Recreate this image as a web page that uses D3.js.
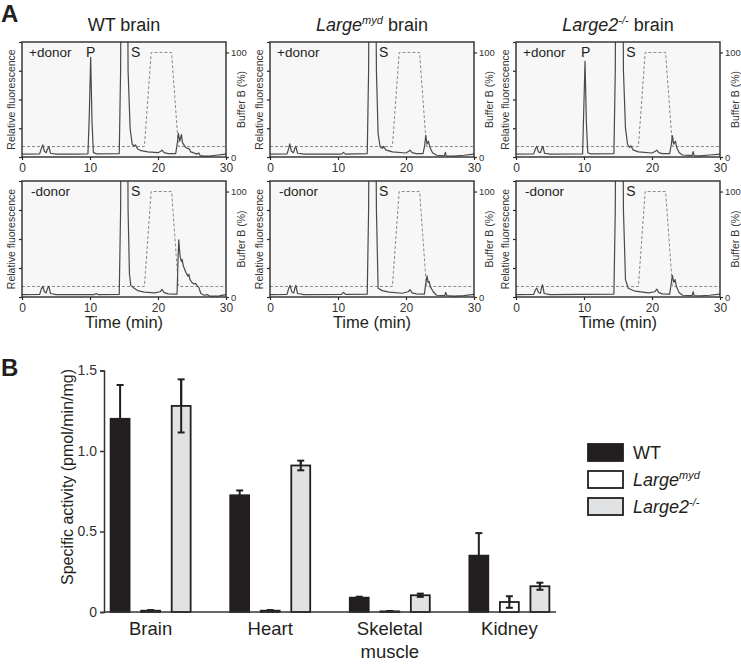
<!DOCTYPE html>
<html>
<head>
<meta charset="utf-8">
<script src="https://cdnjs.cloudflare.com/ajax/libs/d3/7.8.5/d3.min.js"></script>
<style>
  body { margin: 0; background: #fff; }
  svg { display: block; font-family: "Liberation Sans", Arial, sans-serif; }
</style>
</head>
<body>
<div id="chart"></div>
<script>
// ---- panel A: HPLC traces, [time (min), relative fluorescence]
const wtPlus = [[0,0.1],[2.6,0.11],[2.85,0.3],[3.05,0.42],[3.3,0.2],[3.55,0.15],[3.75,0.28],[3.95,0.36],[4.2,0.13],[5,0.1],[8,0.1],[9.7,0.11],[9.9,1.5],[10.1,3.47],[10.3,1.2],[10.5,0.15],[11,0.11],[14.3,0.12],[14.5,3],[14.7,12],[15.4,12],[15.6,3],[15.9,1.0],[16.2,0.45],[16.5,0.38],[16.7,0.42],[17,0.28],[17.5,0.22],[18.5,0.18],[20,0.15],[20.4,0.2],[20.6,0.24],[20.9,0.15],[21.5,0.12],[22.6,0.12],[22.85,0.5],[23.0,0.82],[23.2,0.55],[23.45,0.78],[23.6,0.5],[24,0.35],[24.3,0.3],[24.6,0.28],[24.8,0.18],[25.2,0.15],[25.7,0.1],[26,0.14],[26.2,0.05],[26.8,0.03],[27.5,0.03],[28.5,0.06],[30,0.1]];
const mydPlus = [[0,0.1],[2.5,0.11],[2.75,0.3],[2.9,0.46],[3.15,0.2],[3.45,0.15],[3.65,0.3],[3.8,0.37],[4.05,0.13],[5,0.1],[10.5,0.1],[10.8,0.16],[11.1,0.1],[14.3,0.12],[14.5,3],[14.7,12],[15.4,12],[15.65,3],[15.9,0.8],[16.2,0.35],[16.5,0.3],[16.7,0.37],[17,0.25],[18,0.18],[20,0.14],[20.4,0.2],[20.6,0.24],[20.9,0.15],[21.5,0.12],[22.5,0.12],[22.75,0.4],[22.9,0.75],[23.1,0.45],[23.3,0.55],[23.5,0.35],[23.9,0.15],[24.5,0.06],[25.6,0.04],[25.8,0.16],[25.9,0.04],[27,0.03],[28.5,0.06],[30,0.1]];
const l2Plus = [[0,0.1],[2.6,0.11],[2.85,0.28],[3.05,0.37],[3.3,0.18],[3.6,0.15],[3.8,0.3],[3.95,0.37],[4.2,0.13],[5,0.1],[9.8,0.11],[9.95,1.5],[10.15,3.33],[10.35,1.2],[10.55,0.15],[11,0.11],[14.4,0.12],[14.6,3],[14.8,12],[15.6,12],[15.8,3],[16.1,1.0],[16.4,0.45],[16.7,0.33],[16.9,0.39],[17.2,0.25],[18,0.18],[20,0.14],[20.5,0.2],[20.7,0.24],[21,0.15],[21.5,0.12],[22.6,0.12],[22.85,0.45],[23.0,0.74],[23.2,0.45],[23.45,0.55],[23.6,0.35],[24,0.15],[24.5,0.07],[25.9,0.05],[26.05,0.19],[26.2,0.05],[27,0.04],[28.5,0.07],[30,0.1]];
const wtMinus = [[0,0.08],[2.6,0.09],[2.85,0.28],[3.05,0.37],[3.3,0.18],[3.55,0.14],[3.75,0.3],[3.95,0.37],[4.2,0.12],[5,0.08],[10.6,0.08],[10.9,0.12],[11.2,0.08],[14.3,0.09],[14.5,3],[14.7,12],[15.4,12],[15.6,3],[15.8,0.8],[16,0.4],[16.5,0.3],[17,0.22],[18,0.17],[19.5,0.14],[20.3,0.18],[20.6,0.26],[20.9,0.15],[21.5,0.11],[22.8,0.1],[22.95,1.3],[23.05,1.97],[23.25,1.4],[23.45,1.22],[23.55,1.3],[23.75,1.05],[24.1,0.85],[24.4,0.72],[24.55,0.78],[24.7,0.6],[25.0,0.5],[25.3,0.45],[25.5,0.47],[25.8,0.38],[26.0,0.33],[26.3,0.12],[26.8,0.06],[27.3,0.08],[27.6,0.03],[29,0.04],[30,0.08]];
const mydMinus = [[0,0.08],[2.5,0.09],[2.75,0.3],[2.95,0.4],[3.2,0.18],[3.5,0.14],[3.65,0.3],[3.8,0.4],[4.05,0.12],[5,0.08],[10.5,0.09],[10.8,0.16],[11.1,0.09],[14.3,0.1],[14.5,3],[14.7,12],[15.4,12],[15.65,3],[15.9,0.3],[16.5,0.22],[17.5,0.17],[19.5,0.13],[20.3,0.18],[20.6,0.25],[20.9,0.14],[21.5,0.11],[22.7,0.1],[22.9,0.45],[23.1,0.73],[23.25,0.5],[23.4,0.54],[23.6,0.35],[24,0.18],[24.5,0.06],[25.7,0.05],[25.85,0.16],[26,0.05],[27,0.03],[28.5,0.05],[30,0.09]];
const l2Minus = [[0,0.08],[2.6,0.09],[2.85,0.24],[3.05,0.31],[3.3,0.16],[3.6,0.13],[3.75,0.32],[3.9,0.42],[4.15,0.12],[5,0.08],[14.4,0.1],[14.6,3],[14.8,12],[15.6,12],[15.8,3],[16.1,0.6],[16.5,0.3],[17.5,0.2],[19.5,0.14],[20.4,0.18],[20.7,0.27],[21,0.15],[21.5,0.11],[22.6,0.1],[22.85,0.5],[23.0,0.75],[23.2,0.5],[23.4,0.6],[23.6,0.35],[24,0.15],[24.5,0.06],[25.9,0.05],[26.05,0.18],[26.2,0.05],[27,0.04],[28.5,0.06],[30,0.1]];

// gradient program (Buffer B %)
const bufferB = [[0,10],[18,10],[19,100],[22,100],[23,10],[30,10]];

const timeTicks = [0, 10, 20, 30];
const fluoTicks = [0, 1, 2, 3, 4];
const bufferTicks = [0, 100];
const donorLabels = ["+donor", "-donor"];
// peak labels per column: P (product) and S (substrate) retention times
const pPeak = [10.1, null, 10.25];
const sPeak = [16.7, 16.7, 16.9];

// ---- panel B: specific activity
const tissues = ["Brain", "Heart", "Skeletal muscle", "Kidney"];
const tissueLines = [["Brain"], ["Heart"], ["Skeletal", "muscle"], ["Kidney"]];
const strains = ["WT", "myd", "l2"];
const wtVals = [1.20, 0.725, 0.089, 0.35];
const wtErr = [0.21, 0.03, 0.006, 0.14];
const mydVals = [0.008, 0.008, 0.004, 0.062];
const mydErr = [0.004, 0.004, 0.002, 0.036];
const l2Vals = [1.28, 0.91, 0.104, 0.16];
const l2Err = [0.165, 0.03, 0.01, 0.022];
const actTicks = [0, 0.5, 1.0, 1.5];

const width = 741, height = 665;
const ink = "#231f20";

const svg = d3.select("#chart").append("svg")
  .attr("width", width)
  .attr("height", height);

svg.append("text").attr("x", 1).attr("y", 22)
  .attr("font-size", 24).attr("font-weight", "bold").attr("fill", ink).text("A");
svg.append("text").attr("x", 1).attr("y", 376)
  .attr("font-size", 24).attr("font-weight", "bold").attr("fill", ink).text("B");

// ---------- panel A ----------
const colX = [22, 270, 516];
const pw = 204;
const rows = [[42, 157], [181, 297]];
const traces = [[wtPlus, mydPlus, l2Plus], [wtMinus, mydMinus, l2Minus]];

// titles
function title(x, parts) {
  const t = svg.append("text").attr("x", x).attr("y", 31)
    .attr("text-anchor", "middle").attr("font-size", 18).attr("fill", ink);
  parts.forEach(p => {
    const s = t.append("tspan").text(p.t);
    if (p.i) s.attr("font-style", "italic");
    if (p.sup) s.attr("font-size", 11).attr("dy", -7);
    if (p.down) s.attr("dy", 7);
  });
}
title(colX[0] + pw / 2, [{t: "WT brain"}]);
title(colX[1] + pw / 2, [{t: "Large", i: 1}, {t: "myd", i: 1, sup: 1}, {t: " brain", down: 1}]);
title(colX[2] + pw / 2, [{t: "Large2", i: 1}, {t: "-/-", i: 1, sup: 1}, {t: " brain", down: 1}]);

rows.forEach((r, ri) => {
  const [yt, yb] = r;
  colX.forEach((x0, ci) => {
    const x = d3.scaleLinear().domain([0, 30]).range([x0, x0 + pw]);
    const yL = d3.scaleLinear().domain([0, 4]).range([yb, yt]);
    const yR = d3.scaleLinear().domain([0, 110]).range([yb, yt]);
    const g = svg.append("g");
    const clipId = "clip" + ri + ci;

    g.append("clipPath").attr("id", clipId)
      .append("rect").attr("x", x0).attr("y", yt).attr("width", pw).attr("height", yb - yt);

    g.append("rect").attr("x", x0).attr("y", yt).attr("width", pw).attr("height", yb - yt)
      .attr("fill", "#f7f7f7");

    g.append("path")
      .datum(bufferB)
      .attr("clip-path", `url(#${clipId})`)
      .attr("fill", "none")
      .attr("stroke", "#8a8a8a")
      .attr("stroke-width", 1)
      .attr("stroke-dasharray", "3,2")
      .attr("d", d3.line().x(d => x(d[0])).y(d => yR(d[1])));

    g.append("path")
      .datum(traces[ri][ci])
      .attr("clip-path", `url(#${clipId})`)
      .attr("fill", "none")
      .attr("stroke", "#4a4a4a")
      .attr("stroke-width", 1.2)
      .attr("stroke-linejoin", "round")
      .attr("d", d3.line().x(d => x(d[0])).y(d => yL(d[1])));

    g.append("rect").attr("x", x0).attr("y", yt).attr("width", pw).attr("height", yb - yt)
      .attr("fill", "none").attr("stroke", "#2b2b2b").attr("stroke-width", 1.4);

    // axes
    const ax = g.append("g").attr("transform", `translate(${x0},0)`)
      .call(d3.axisLeft(yL).tickValues(fluoTicks).tickSize(3).tickFormat(""));
    const ar = g.append("g").attr("transform", `translate(${x0 + pw},0)`)
      .call(d3.axisRight(yR).tickValues(bufferTicks).tickSize(3).tickPadding(2));
    const ab = g.append("g").attr("transform", `translate(0,${yb})`)
      .call(d3.axisBottom(x).tickValues(timeTicks).tickSize(3).tickPadding(3));
    [ax, ar, ab].forEach(a => {
      a.select(".domain").remove();
      a.selectAll("line").attr("stroke", "#2b2b2b").attr("stroke-width", 1.2);
      a.selectAll("text").attr("fill", "#333").attr("font-family", null);
    });
    ar.selectAll("text").attr("font-size", 9.5);
    ab.selectAll("text").attr("font-size", 12);

    g.append("text")
      .attr("transform", `translate(${x0 - 7},${(yt + yb) / 2}) rotate(-90)`)
      .attr("text-anchor", "middle").attr("font-size", 10.5).attr("fill", "#333")
      .text("Relative fluorescence");
    g.append("text")
      .attr("transform", `translate(${x0 + pw + 19},${(yt + yb) / 2}) rotate(-90)`)
      .attr("text-anchor", "middle").attr("font-size", 10.5).attr("fill", "#333")
      .text("Buffer B (%)");

    g.append("text").attr("x", x0 + (ri === 0 ? 7 : 9)).attr("y", yt + 15)
      .attr("font-size", 13.5).attr("fill", ink).text(donorLabels[ri]);
    if (ri === 0 && pPeak[ci] != null) {
      g.append("text").attr("x", x(pPeak[ci])).attr("y", yt + 15)
        .attr("text-anchor", "middle").attr("font-size", 14).attr("fill", ink).text("P");
    }
    g.append("text").attr("x", x(sPeak[ci])).attr("y", yt + 15)
      .attr("text-anchor", "middle").attr("font-size", 14).attr("fill", ink).text("S");

    if (ri === 1) {
      g.append("text").attr("x", x0 + pw / 2).attr("y", 328)
        .attr("text-anchor", "middle").attr("font-size", 16.5).attr("fill", ink)
        .text("Time (min)");
    }
  });
});

// ---------- panel B ----------
const xB = d3.scalePoint().domain(tissues).range([104, 556]).padding(0.39);
const xS = d3.scaleBand().domain(strains).range([-40, 40]).paddingInner(0.38);
const yB = d3.scaleLinear().domain([0, 1.5]).range([612, 370.5]);

const fills = {WT: ink, myd: "#ffffff", l2: "#e1e2e3"};
const vals = {WT: wtVals, myd: mydVals, l2: l2Vals};
const errs = {WT: wtErr, myd: mydErr, l2: l2Err};

const barData = [];
tissues.forEach((t, i) => strains.forEach(s => {
  barData.push({t: t, s: s, v: vals[s][i], e: errs[s][i]});
}));

const gB = svg.append("g");

// error bars first (lower half hidden by bar)
const eb = gB.selectAll(".err").data(barData).enter().append("g").attr("class", "err");
eb.append("line")
  .attr("x1", d => xB(d.t) + xS(d.s) + xS.bandwidth() / 2)
  .attr("x2", d => xB(d.t) + xS(d.s) + xS.bandwidth() / 2)
  .attr("y1", d => yB(Math.max(0, d.v - d.e)))
  .attr("y2", d => yB(d.v + d.e))
  .attr("stroke", ink).attr("stroke-width", 2);
eb.selectAll(".cap").data(d => [d.v + d.e, Math.max(0, d.v - d.e)].map(y => ({d: d, y: y})))
  .enter().append("line")
  .attr("x1", c => xB(c.d.t) + xS(c.d.s) + xS.bandwidth() / 2 - 3.5)
  .attr("x2", c => xB(c.d.t) + xS(c.d.s) + xS.bandwidth() / 2 + 3.5)
  .attr("y1", c => yB(c.y))
  .attr("y2", c => yB(c.y))
  .attr("stroke", ink).attr("stroke-width", 2);

gB.selectAll(".bar").data(barData).enter().append("rect")
  .attr("class", "bar")
  .attr("x", d => xB(d.t) + xS(d.s))
  .attr("y", d => yB(d.v))
  .attr("width", xS.bandwidth())
  .attr("height", d => yB(0) - yB(d.v))
  .attr("fill", d => fills[d.s])
  .attr("stroke", ink)
  .attr("stroke-width", 1.8);

// redraw error bar upper half on top of the bars
gB.selectAll(".errTop").data(barData.filter(d => d.s !== "WT")).enter().append("line")
  .attr("x1", d => xB(d.t) + xS(d.s) + xS.bandwidth() / 2)
  .attr("x2", d => xB(d.t) + xS(d.s) + xS.bandwidth() / 2)
  .attr("y1", d => yB(Math.max(0, d.v - d.e)))
  .attr("y2", d => yB(d.v + d.e))
  .attr("stroke", ink).attr("stroke-width", 2);
gB.selectAll(".capLow").data(barData.filter(d => d.s !== "WT")).enter().append("line")
  .attr("x1", d => xB(d.t) + xS(d.s) + xS.bandwidth() / 2 - 3.5)
  .attr("x2", d => xB(d.t) + xS(d.s) + xS.bandwidth() / 2 + 3.5)
  .attr("y1", d => yB(Math.max(0, d.v - d.e)))
  .attr("y2", d => yB(Math.max(0, d.v - d.e)))
  .attr("stroke", ink).attr("stroke-width", 2);

// axes
const yAx = gB.append("g").attr("transform", "translate(104,0)")
  .call(d3.axisLeft(yB).tickValues(actTicks).tickSize(4).tickPadding(3)
    .tickFormat(d => d === 0 ? "0" : d3.format(".1f")(d)));
yAx.select(".domain").attr("stroke", "#333").attr("stroke-width", 1.5);
yAx.selectAll("line").attr("stroke", "#333").attr("stroke-width", 1.5);
yAx.selectAll("text").attr("font-size", 14).attr("fill", "#333").attr("font-family", null);

gB.append("line").attr("x1", 104).attr("x2", 556).attr("y1", yB(0)).attr("y2", yB(0))
  .attr("stroke", "#333").attr("stroke-width", 1.5);

tissues.forEach((t, i) => {
  tissueLines[i].forEach((ln, j) => {
    gB.append("text").attr("x", xB(t)).attr("y", 635 + j * 23)
      .attr("text-anchor", "middle").attr("font-size", 18.5).attr("fill", ink).text(ln);
  });
});

gB.append("text")
  .attr("transform", "translate(73,477) rotate(-90)")
  .attr("text-anchor", "middle").attr("font-size", 16).attr("fill", ink)
  .text("Specific activity (pmol/min/mg)");

// legend
const legendParts = {
  WT: [{t: "WT"}],
  myd: [{t: "Large", i: 1}, {t: "myd", i: 1, sup: 1}],
  l2: [{t: "Large2", i: 1}, {t: "-/-", i: 1, sup: 1}]
};
strains.forEach((s, i) => {
  const y0 = 444 + i * 27;
  gB.append("rect").attr("x", 588).attr("y", y0).attr("width", 35).attr("height", 17)
    .attr("fill", fills[s]).attr("stroke", ink).attr("stroke-width", 1.8);
  const t = gB.append("text").attr("x", 633).attr("y", y0 + 15)
    .attr("font-size", 18).attr("fill", ink);
  legendParts[s].forEach(p => {
    const sp = t.append("tspan").text(p.t);
    if (p.i) sp.attr("font-style", "italic");
    if (p.sup) sp.attr("font-size", 11).attr("dy", -7);
  });
});
</script>
</body>
</html>
